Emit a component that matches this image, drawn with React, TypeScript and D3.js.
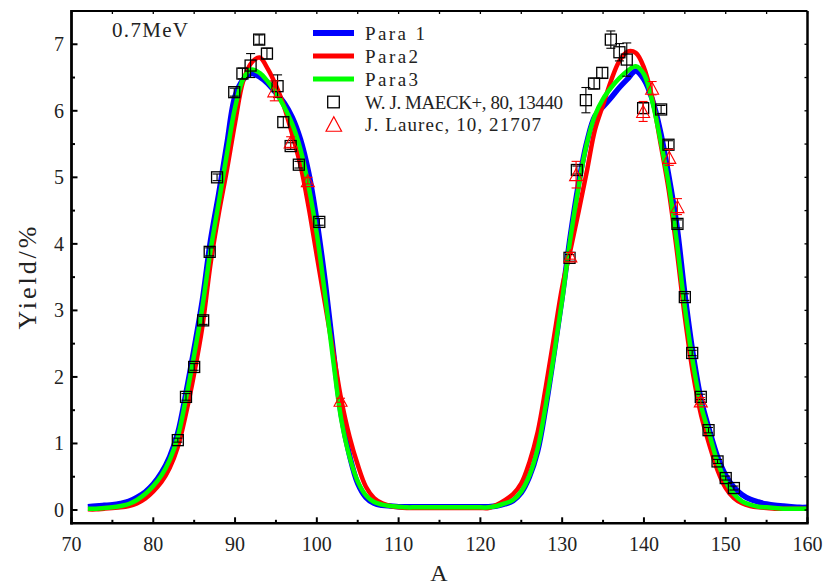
import React from "react";
import * as d3 from "d3";

// ---- data ----
const massNumbers = d3.range(72, 161); // A = 72 ... 160

const para1 = [
  0.05, 0.06, 0.07, 0.08, 0.1, 0.13, 0.19, 0.27, 0.39, 0.56, 0.8, 1.16, 1.76, 2.43, 3.15, 4.05, 4.75, 5.5, 6.22, 6.47,
  6.56, 6.51, 6.41, 6.27, 6.12, 5.9, 5.57, 5.07, 4.35, 3.45, 2.4, 1.42, 0.82, 0.4, 0.19, 0.1, 0.07, 0.06, 0.05, 0.05,
  0.05, 0.05, 0.05, 0.05, 0.05, 0.05, 0.05, 0.05, 0.05, 0.05, 0.06, 0.09, 0.14, 0.26, 0.5, 0.88, 1.55, 2.35, 3.2, 4.12,
  4.9, 5.52, 5.92, 6.06, 6.2, 6.35, 6.48, 6.6, 6.47, 6.18, 5.7, 5.05, 4.3, 3.25, 2.35, 1.65, 1.2, 0.8, 0.52, 0.34,
  0.23, 0.16, 0.12, 0.09, 0.07, 0.06, 0.05, 0.04, 0.04,
];

const para2 = [
  0.01, 0.01, 0.02, 0.03, 0.04, 0.06, 0.1, 0.17, 0.28, 0.42, 0.63, 0.95, 1.45, 2.05, 2.75, 3.7, 4.45, 5.11, 5.82, 6.45,
  6.72, 6.8, 6.63, 6.38, 6.06, 5.64, 5.18, 4.55, 3.82, 3.1, 2.38, 1.65, 1.1, 0.68, 0.35, 0.18, 0.1, 0.06, 0.04, 0.03,
  0.03, 0.03, 0.03, 0.03, 0.03, 0.03, 0.03, 0.03, 0.03, 0.03, 0.08, 0.15, 0.24, 0.4, 0.72, 1.17, 1.85, 2.6, 3.35, 3.9,
  4.48, 5.08, 5.71, 6.09, 6.46, 6.75, 6.89, 6.87, 6.65, 6.2, 5.53, 4.83, 3.92, 2.9, 2.05, 1.42, 0.98, 0.6, 0.33, 0.18,
  0.1, 0.06, 0.04, 0.03, 0.02, 0.02, 0.02, 0.02, 0.02,
];

const para3 = [
  0.02, 0.02, 0.03, 0.04, 0.06, 0.09, 0.15, 0.24, 0.36, 0.52, 0.75, 1.1, 1.68, 2.33, 3.05, 3.9, 4.62, 5.35, 6.05, 6.48,
  6.62, 6.57, 6.44, 6.27, 6.06, 5.8, 5.42, 4.86, 4.15, 3.24, 2.25, 1.35, 0.8, 0.43, 0.22, 0.12, 0.08, 0.06, 0.05, 0.04,
  0.04, 0.04, 0.04, 0.04, 0.04, 0.04, 0.04, 0.04, 0.04, 0.04, 0.06, 0.1, 0.15, 0.28, 0.52, 0.92, 1.58, 2.33, 3.16, 4.08,
  4.85, 5.5, 5.93, 6.18, 6.35, 6.49, 6.6, 6.67, 6.55, 6.15, 5.57, 4.92, 4.05, 3.05, 2.21, 1.56, 1.14, 0.72, 0.43, 0.24,
  0.13, 0.08, 0.05, 0.04, 0.03, 0.02, 0.02, 0.02, 0.02,
];

// W. J. MAECK+, 80, 13440 : [A, yield, error]
const maeckA = [83, 84, 85, 86.1, 86.9, 87.8, 89.9, 90.9, 91.9, 92.95, 93.9, 95.2, 95.9, 96.8, 97.8, 100.3,
  130.9, 131.8, 132.9, 133.9, 134.9, 135.95, 137, 137.9, 139.9, 142.1, 143, 144.1, 145, 145.9, 146.95, 147.9, 149, 150, 151];
const maeckY = [1.05, 1.7, 2.15, 2.85, 3.88, 5.0, 6.28, 6.56, 6.68, 7.07, 6.86, 6.37, 5.83, 5.47, 5.19, 4.33,
  3.79, 5.11, 6.16, 6.41, 6.57, 7.07, 6.88, 6.77, 6.04, 6.02, 5.49, 4.3, 3.2, 2.36, 1.7, 1.2, 0.73, 0.48, 0.33];
const maeckErr = [0.03, 0.05, 0.05, 0.06, 0.06, 0.05, 0.06, 0.08, 0.18, 0.07, 0.08, 0.17, 0.08, 0.05, 0.05, 0.05,
  0.05, 0.06, 0.19, 0.08, 0.08, 0.13, 0.13, 0.25, 0.08, 0.06, 0.06, 0.06, 0.05, 0.04, 0.04, 0.04, 0.03, 0.03, 0.03];

// J. Laurec, 10, 21707
const laurecA = [94.8, 96.8, 98.9, 102.9, 131, 131.7, 139.9, 141, 143.1, 144.1, 146.95];
const laurecY = [6.3, 5.53, 4.95, 1.65, 3.82, 5.04, 5.99, 6.34, 5.3, 4.56, 1.64];
const laurecErr = [0.15, 0.08, 0.05, 0.03, 0.05, 0.2, 0.15, 0.1, 0.12, 0.12, 0.05];

const xMajor = [70, 80, 90, 100, 110, 120, 130, 140, 150, 160];
const xMinor = [75, 85, 95, 105, 115, 125, 135, 145, 155];
const yMajor = [0, 1, 2, 3, 4, 5, 6, 7];
const yMinor = [0.5, 1.5, 2.5, 3.5, 4.5, 5.5, 6.5];

const seriesNames = ["Para 1", "Para2", "Para3"];
const seriesColors = ["#0000ff", "#ff0000", "#00ff00"];
const seriesWidths = [5.5, 4.5, 4.5];
const dataNames = ["W. J. MAECK+, 80, 13440", "J. Laurec, 10, 21707"];

// ---- layout ----
const W = 825;
const H = 587;
const L = 71.5, R = 807.5, T = 11, B = 523.3;
const FONT = "'Liberation Serif', 'DejaVu Serif', serif";

export default function App() {
  const x = d3.scaleLinear().domain([70, 160]).range([L, R]);
  const y = d3.scaleLinear().domain([-0.2, 7.5]).range([B, T]);
  const line = d3
    .line<number>()
    .x((_, i) => x(massNumbers[i]))
    .y((d) => y(d))
    .curve(d3.curveCatmullRom.alpha(0.5));
  const series = [para1, para2, para3];

  const tri = (cx: number, cy: number, w: number, h: number) =>
    `M${cx - w / 2},${cy + h / 2}L${cx + w / 2},${cy + h / 2}L${cx},${cy - h / 2}Z`;

  const errBar = (a: number, v: number, e: number, color: string, key: string) => {
    const cx = x(a);
    const y1 = y(v - e);
    const y2 = y(v + e);
    return (
      <g key={key} stroke={color} strokeWidth={1.1} fill="none">
        <line x1={cx} x2={cx} y1={y1} y2={y2} />
        <line x1={cx - 4.5} x2={cx + 4.5} y1={y1} y2={y1} />
        <line x1={cx - 4.5} x2={cx + 4.5} y1={y2} y2={y2} />
      </g>
    );
  };

  const legendRows = [33, 56, 79, 102, 124];
  const legendText = [seriesNames[0], seriesNames[1], seriesNames[2], dataNames[0], dataNames[1]];
  const legendLen = [60, 53, 53, 198, 176];

  return (
    <svg
      width={W}
      height={H}
      style={{ position: "absolute", left: 0, top: 0, background: "#fff" }}
      fontFamily={FONT}
    >
      <defs>
        <clipPath id="plot">
          <rect x={L} y={T} width={R - L} height={B - T} />
        </clipPath>
      </defs>
      <rect x={0} y={0} width={W} height={H} fill="#fff" />

      {/* curves */}
      <g clipPath="url(#plot)">
        {series.map((s, i) => (
          <path
            key={i}
            d={line(s) || ""}
            fill="none"
            stroke={seriesColors[i]}
            strokeWidth={seriesWidths[i]}
            strokeLinejoin="round"
          />
        ))}
      </g>

      {/* experimental data */}
      <g>
        {maeckA.map((a, i) => errBar(a, maeckY[i], maeckErr[i], "#000", "me" + i))}
        {maeckA.map((a, i) => (
          <rect
            key={"ms" + i}
            x={x(a) - 5.5}
            y={y(maeckY[i]) - 5.5}
            width={11}
            height={11}
            fill="none"
            stroke="#000"
            strokeWidth={1.3}
          />
        ))}
        {laurecA.map((a, i) => errBar(a, laurecY[i], laurecErr[i], "#ff0000", "le" + i))}
        {laurecA.map((a, i) => (
          <path
            key={"lt" + i}
            d={tri(x(a), y(laurecY[i]), 13, 12)}
            fill="none"
            stroke="#ff0000"
            strokeWidth={1.1}
          />
        ))}
      </g>

      {/* frame */}
      <g stroke="#000" fill="none">
        <line x1={L} x2={R} y1={T} y2={T} strokeWidth={2} />
        <line x1={R} x2={R} y1={T} y2={B} strokeWidth={2.5} />
        <line x1={L} x2={L} y1={T - 1} y2={B + 1.2} strokeWidth={2.8} />
        <line x1={L - 1.2} x2={R + 1.2} y1={B} y2={B} strokeWidth={2.5} />
      </g>

      {/* ticks */}
      <g stroke="#000" strokeWidth={2}>
        {xMajor.map((t) => (
          <line key={"xb" + t} x1={x(t)} x2={x(t)} y1={B} y2={B - 6} />
        ))}
        {xMinor.map((t) => (
          <line key={"xm" + t} x1={x(t)} x2={x(t)} y1={B} y2={B - 3.5} />
        ))}
        {xMajor.concat(xMinor).map((t) => (
          <line key={"xt" + t} x1={x(t)} x2={x(t)} y1={T} y2={T + 3} strokeWidth={1.3} />
        ))}
        {yMajor.map((t) => (
          <line key={"yl" + t} x1={L} x2={L + 6} y1={y(t)} y2={y(t)} />
        ))}
        {yMinor.map((t) => (
          <line key={"ym" + t} x1={L} x2={L + 3.5} y1={y(t)} y2={y(t)} />
        ))}
        {yMajor.concat(yMinor).map((t) => (
          <line key={"yr" + t} x1={R} x2={R - 3} y1={y(t)} y2={y(t)} strokeWidth={1.3} />
        ))}
      </g>

      {/* tick labels */}
      <g fontSize={20} fill="#222">
        {xMajor.map((t) => (
          <text key={"xl" + t} x={x(t)} y={551} textAnchor="middle">
            {t}
          </text>
        ))}
        {yMajor.map((t) => (
          <text key={"yt" + t} x={64} y={y(t) + 7} textAnchor="end">
            {t}
          </text>
        ))}
      </g>

      {/* axis titles */}
      <text x={439} y={581} fontSize={24} textAnchor="middle" fill="#222">
        A
      </text>
      <text
        transform={`translate(36,278) rotate(-90)`}
        fontSize={26}
        textAnchor="middle"
        fill="#222"
        textLength={103}
        lengthAdjust="spacing"
      >
        Yield/%
      </text>

      {/* energy label */}
      <text x={112} y={37} fontSize={21} fill="#222" textLength={76} lengthAdjust="spacing">
        0.7MeV
      </text>

      {/* legend */}
      <g>
        {seriesNames.map((n, i) => (
          <line
            key={"ll" + i}
            x1={313}
            x2={354}
            y1={legendRows[i]}
            y2={legendRows[i]}
            stroke={seriesColors[i]}
            strokeWidth={i === 0 ? 6 : 5}
          />
        ))}
        <rect x={333.5 - 5.8} y={legendRows[3] - 5.8} width={11.6} height={11.6} fill="none" stroke="#000" strokeWidth={1.3} />
        <path d={tri(333.8, legendRows[4], 15.5, 14.5)} fill="none" stroke="#ff0000" strokeWidth={1.2} />
        {legendText.map((t, i) => (
          <text
            key={"lt" + i}
            x={365}
            y={legendRows[i] + 7}
            fontSize={19}
            fill="#222"
            textLength={legendLen[i]}
            lengthAdjust="spacing"
          >
            {t}
          </text>
        ))}
      </g>
    </svg>
  );
}
